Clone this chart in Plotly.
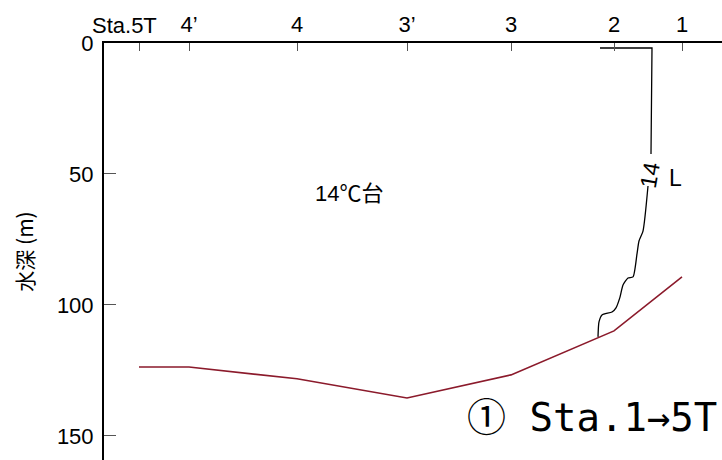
import plotly.graph_objects as go

# Station positions along the section (distance units) and labels
station_x = [35, 85, 193, 303, 407, 510, 578]
station_labels = ["Sta.5T", "4’", "4", "3’", "3", "2", "1"]

# Sea-bottom depth (m) at each station
bottom_depth = [123.7, 123.7, 128.2, 135.5, 126.7, 109.9, 89.3]

# 14 °C isotherm (upper part, above label)
iso14_x_upper = [496, 548, 547]
iso14_d_upper = [1.9, 1.9, 42.4]
# 14 °C isotherm (lower part, below label)
iso14_x_lower = [544, 539, 535, 533, 529, 524, 519, 516, 512, 508, 498, 495, 494]
iso14_d_lower = [54.6, 71.8, 75.6, 80.5, 89.3, 89.7, 92.4, 97.0, 101.1, 102.7, 103.8, 106.5, 112.2]

y_ticks = [0, 50, 100, 150]

tick_font = dict(family="Liberation Sans", size=22, color="black")

fig = go.Figure()
fig.add_trace(go.Scatter(x=station_x, y=bottom_depth, mode="lines",
                         line=dict(color="#8B1A2B", width=1.6), hoverinfo="skip"))
fig.add_trace(go.Scatter(x=iso14_x_upper, y=iso14_d_upper, mode="lines",
                         line=dict(color="black", width=1.3), hoverinfo="skip"))
fig.add_trace(go.Scatter(x=iso14_x_lower, y=iso14_d_lower, mode="lines",
                         line=dict(color="black", width=1.3, shape="spline", smoothing=0.6),
                         hoverinfo="skip"))

# First station label sits slightly left of its tick, as in the source figure
fig.add_annotation(x=station_x[0], xref="x", y=1, yref="paper", yanchor="bottom",
                   text=station_labels[0], showarrow=False, xshift=-15, yshift=3,
                   font=tick_font)

fig.add_annotation(x=546, y=50.4, text="14", showarrow=False, textangle=-80,
                   font=dict(family="Liberation Sans", size=23, color="black"))
fig.add_annotation(x=571, y=51.5, text="L", showarrow=False,
                   font=dict(family="Liberation Sans", size=23, color="black"))
fig.add_annotation(x=245, y=57.3, text="14℃台", showarrow=False,
                   font=dict(family="Liberation Sans, Noto Sans CJK JP", size=22, color="black"))
fig.add_annotation(x=0.995, xref="paper", xanchor="right", y=143.1, text="① Sta.1→5T",
                   showarrow=False,
                   font=dict(family="DejaVu Sans Mono, Noto Sans CJK JP", size=39, color="black"))

fig.update_layout(
    width=722, height=460,
    margin=dict(l=104, r=0, t=43, b=0),
    paper_bgcolor="white", plot_bgcolor="white",
    showlegend=False,
    xaxis=dict(side="top", range=[0, 618], tickmode="array", automargin=False,
               tickvals=station_x, ticktext=[""] + station_labels[1:], tickangle=0,
               ticks="inside", ticklen=8, tickcolor="#555", tickwidth=1.3,
               showline=True, linecolor="black", linewidth=1.6,
               showgrid=False, zeroline=False,
               tickfont=tick_font),
    yaxis=dict(range=[159.2, 0], tickmode="array", tickvals=y_ticks, automargin=False,
               ticks="inside", ticklen=12, tickcolor="#555", tickwidth=1.3,
               ticklabelstandoff=4,
               showline=True, linecolor="black", linewidth=2,
               showgrid=False, zeroline=False,
               tickfont=tick_font,
               title=dict(text="水深 (m)", standoff=18,
                          font=dict(family="Noto Sans CJK JP, Liberation Sans", size=21, color="black"))),
)

fig.write_html("out.html", config={"displayModeBar": False},
               post_script="document.body.style.margin='0';document.body.style.overflow='hidden';")
